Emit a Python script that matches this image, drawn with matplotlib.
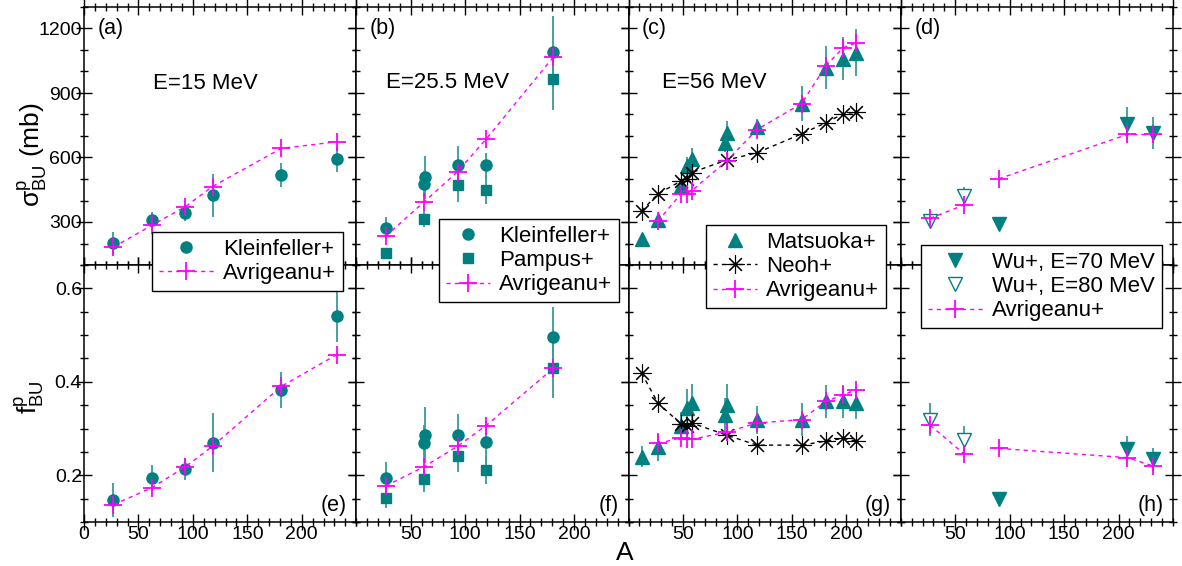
import numpy as np
import matplotlib
matplotlib.use('Agg')
import matplotlib.pyplot as plt
from matplotlib.ticker import MultipleLocator, NullFormatter

plt.rcParams['font.family'] = ['Liberation Sans', 'DejaVu Sans']
plt.rcParams['mathtext.default'] = 'regular'

# ------------------------------------------------------------
# Datos
# ------------------------------------------------------------
# E = 15 MeV
A15 = [27, 62, 93, 118, 181, 232]
sig15_kl = [202, 307, 343, 424, 518, 591]
sig15_kl_err = [50, 40, 40, 100, 55, 60]
sig15_av = [183, 284, 371, 465, 642, 673]
f15_kl = [0.147, 0.194, 0.213, 0.270, 0.383, 0.541]
f15_kl_err = [0.037, 0.027, 0.023, 0.064, 0.039, 0.055]
f15_av = [0.137, 0.173, 0.218, 0.262, 0.390, 0.458]

# E = 25.5 MeV
A25_kl = [27, 62, 63, 93, 119, 181]
sig25_kl = [273, 475, 509, 563, 563, 1092]
sig25_kl_err = [50, 60, 100, 90, 60, 165]
f25_kl = [0.195, 0.268, 0.286, 0.287, 0.272, 0.496]
f25_kl_err = [0.033, 0.04, 0.06, 0.045, 0.045, 0.065]
A25_pa = [27, 62, 93, 119, 181]
sig25_pa = [154, 315, 470, 447, 963]
sig25_pa_err = [15, 40, 75, 65, 140]
f25_pa = [0.151, 0.192, 0.241, 0.211, 0.429]
f25_pa_err = [0.02, 0.028, 0.035, 0.03, 0.063]
A25_av = [27, 62, 93, 119, 181]
sig25_av = [234, 392, 534, 684, 1067]
f25_av = [0.177, 0.218, 0.262, 0.306, 0.429]

# E = 56 MeV
A56_ma = [12, 27, 48, 54, 58, 89, 90, 118, 159, 181, 197, 209]
sig56_ma = [219, 309, 467, 560, 595, 669, 715, 743, 851, 1017, 1059, 1087]
sig56_ma_err = [15, 20, 30, 40, 50, 45, 55, 35, 80, 100, 100, 110]
f56_ma = [0.240, 0.260, 0.305, 0.345, 0.355, 0.330, 0.351, 0.319, 0.319, 0.358, 0.358, 0.355]
f56_ma_err = [0.023, 0.03, 0.03, 0.04, 0.04, 0.035, 0.045, 0.03, 0.035, 0.035, 0.035, 0.035]
A56_ne = [12, 27, 48, 54, 58, 90, 118, 159, 181, 197, 209]
sig56_ne = [351, 431, 490, 500, 530, 588, 622, 710, 761, 803, 811]
f56_ne = [0.4185, 0.355, 0.310, 0.305, 0.312, 0.286, 0.2645, 0.2645, 0.273, 0.279, 0.273]
A56_av = [27, 48, 54, 58, 90, 118, 159, 181, 197, 209]
sig56_av = [304, 430, 432, 445, 583, 730, 851, 1025, 1110, 1133]
f56_av = [0.268, 0.280, 0.278, 0.277, 0.292, 0.312, 0.319, 0.358, 0.372, 0.383]

# Wu, E = 70 / 80 MeV
A70 = [90, 208, 232]
sig70 = [293, 758, 715]
sig70_err = [15, 75, 75]
f70 = [0.149, 0.257, 0.234]
f70_err = [0.005, 0.027, 0.025]
A80 = [27, 58]
sig80 = [304, 420]
sig80_err = [10, 45]
f80 = [0.319, 0.2745]
f80_err = [0.036, 0.032]
A7080_av = [27, 58, 90, 208, 232]
sig7080_av = [317, 379, 501, 707, 707]
f7080_av = [0.307, 0.246, 0.2575, 0.2377, 0.2198]

TEAL = '#008080'
ERRC = '#3a9a9a'
MAG = '#ff00ff'

# ------------------------------------------------------------
# Estilos
# ------------------------------------------------------------
AV_KW = dict(color=MAG, marker='+', ms=13, mew=1.3, lw=1.0, ls=(0, (3, 3)), zorder=6)
NE_KW = dict(color='black', marker=(8, 2, 0), ms=13, mew=0.8, lw=1.0, ls=(0, (3, 3)), zorder=5)


def err(ax, x, y, e):
    ax.errorbar(x, y, yerr=e, fmt='none', ecolor=ERRC, elinewidth=1.3, capsize=0, zorder=3)


fig = plt.figure(figsize=(11.82, 5.66), dpi=100)
L, R = 84 / 1182, 1173 / 1182
W = (R - L) / 4
yb, ym, yt = 1 - 522 / 566, 1 - 265 / 566, 1 - 7 / 566
axes_top = [fig.add_axes([L + i * W, ym, W, yt - ym]) for i in range(4)]
axes_bot = [fig.add_axes([L + i * W, yb, W, ym - yb]) for i in range(4)]

for i, ax in enumerate(axes_top + axes_bot):
    ax.set_xlim(0, 250)
    ax.xaxis.set_major_locator(MultipleLocator(50))
    ax.xaxis.set_minor_locator(MultipleLocator(10))
    ax.tick_params(which='both', direction='inout', top=True, right=True, labelsize=14)
    ax.tick_params(which='major', length=11, width=1)
    ax.tick_params(which='minor', length=6, width=1)
    ax.tick_params(axis='y', which='major', pad=-4)
    ax.tick_params(axis='x', which='major', pad=-2.5)
    for s in ax.spines.values():
        s.set_linewidth(1.1)

for ax in axes_top:
    ax.set_ylim(100, 1300)
    ax.yaxis.set_major_locator(MultipleLocator(300))
    ax.yaxis.set_minor_locator(MultipleLocator(100))
for ax in axes_bot:
    ax.set_ylim(0.1, 0.65)
    ax.yaxis.set_major_locator(MultipleLocator(0.2))
    ax.yaxis.set_minor_locator(MultipleLocator(0.05))
for ax in axes_top[1:] + axes_bot[1:]:
    ax.yaxis.set_major_formatter(NullFormatter())
axes_bot[0].set_xticks([0, 50, 100, 150, 200])
axes_bot[0].set_xticklabels(['0', '50', '100', '150', '200'])
for ax in axes_bot[1:]:
    ax.set_xticks([50, 100, 150, 200])
    ax.set_xticklabels(['50', '100', '150', '200'])
for ax in axes_top:
    ax.set_xticks([0, 50, 100, 150, 200, 250])
    ax.xaxis.set_major_formatter(NullFormatter())
axes_top[0].set_yticks([300, 600, 900, 1200])
axes_bot[0].set_yticks([0.2, 0.4, 0.6])
axes_bot[0].set_yticklabels(['0.2', '0.4', '0.6'])

# ---------------- (a) / (e) ----------------
ax, bx = axes_top[0], axes_bot[0]
err(ax, A15, sig15_kl, sig15_kl_err)
h_kl, = ax.plot(A15, sig15_kl, 'o', color=TEAL, ms=8, zorder=4, label='Kleinfeller+')
h_av, = ax.plot(A15, sig15_av, label='Avrigeanu+', **AV_KW)
err(bx, A15, f15_kl, f15_kl_err)
bx.plot(A15, f15_kl, 'o', color=TEAL, ms=8, zorder=4)
bx.plot(A15, f15_av, **AV_KW)

# ---------------- (b) / (f) ----------------
ax, bx = axes_top[1], axes_bot[1]
err(ax, A25_kl, sig25_kl, sig25_kl_err)
err(ax, A25_pa, sig25_pa, sig25_pa_err)
h_kl2, = ax.plot(A25_kl, sig25_kl, 'o', color=TEAL, ms=8, zorder=4, label='Kleinfeller+')
h_pa, = ax.plot(A25_pa, sig25_pa, 's', color=TEAL, ms=7, zorder=4, label='Pampus+')
h_av2, = ax.plot(A25_av, sig25_av, label='Avrigeanu+', **AV_KW)
err(bx, A25_kl, f25_kl, f25_kl_err)
err(bx, A25_pa, f25_pa, f25_pa_err)
bx.plot(A25_kl, f25_kl, 'o', color=TEAL, ms=8, zorder=4)
bx.plot(A25_pa, f25_pa, 's', color=TEAL, ms=7, zorder=4)
bx.plot(A25_av, f25_av, **AV_KW)

# ---------------- (c) / (g) ----------------
ax, bx = axes_top[2], axes_bot[2]
err(ax, A56_ma, sig56_ma, sig56_ma_err)
h_ma, = ax.plot(A56_ma, sig56_ma, '^', color=TEAL, ms=10, zorder=4, label='Matsuoka+')
h_ne, = ax.plot(A56_ne, sig56_ne, label='Neoh+', **NE_KW)
h_av3, = ax.plot(A56_av, sig56_av, label='Avrigeanu+', **AV_KW)
err(bx, A56_ma, f56_ma, f56_ma_err)
bx.plot(A56_ma, f56_ma, '^', color=TEAL, ms=10, zorder=4)
bx.plot(A56_ne, f56_ne, **NE_KW)
bx.plot(A56_av, f56_av, **AV_KW)

# ---------------- (d) / (h) ----------------
ax, bx = axes_top[3], axes_bot[3]
err(ax, A70, sig70, sig70_err)
err(ax, A80, sig80, sig80_err)
h_w70, = ax.plot(A70, sig70, 'v', color=TEAL, ms=10, zorder=4, label='Wu+, E=70 MeV')
h_w80, = ax.plot(A80, sig80, 'v', mfc='white', mec=TEAL, mew=1.0, ms=10, zorder=4,
                 label='Wu+, E=80 MeV')
h_av4, = ax.plot(A7080_av[:2], sig7080_av[:2], label='Avrigeanu+', **AV_KW)
ax.plot(A7080_av[2:], sig7080_av[2:], **AV_KW)
err(bx, A70, f70, f70_err)
err(bx, A80, f80, f80_err)
bx.plot(A70, f70, 'v', color=TEAL, ms=10, zorder=4)
bx.plot(A80, f80, 'v', mfc='white', mec=TEAL, mew=1.0, ms=10, zorder=4)
bx.plot(A7080_av[:2], f7080_av[:2], **AV_KW)
bx.plot(A7080_av[2:], f7080_av[2:], **AV_KW)

# ---------------- textos ----------------
for ax, lab in zip(axes_top, ['(a)', '(b)', '(c)', '(d)']):
    ax.text(0.05, 0.915, lab, transform=ax.transAxes, fontsize=15.5, va='center', ha='left')
for ax, lab in zip(axes_bot, ['(e)', '(f)', '(g)', '(h)']):
    ax.text(0.965, 0.066, lab, transform=ax.transAxes, fontsize=15.5, va='center', ha='right')
axes_top[0].text(0.447, 0.705, 'E=15 MeV', transform=axes_top[0].transAxes,
                 fontsize=16, ha='center', va='center')
axes_top[1].text(0.335, 0.709, 'E=25.5 MeV', transform=axes_top[1].transAxes,
                 fontsize=16, ha='center', va='center')
axes_top[2].text(0.316, 0.709, 'E=56 MeV', transform=axes_top[2].transAxes,
                 fontsize=16, ha='center', va='center')

fig.text(0.027, 1 - 155 / 566, r'$\sigma^{p}_{BU}$ (mb)', rotation=90,
         fontsize=19, ha='center', va='center')
fig.text(0.025, 1 - 397 / 566, r'$f^{p}_{BU}$', rotation=90,
         fontsize=19, ha='center', va='center')
fig.text(625 / 1182, 1 - 553 / 566, 'A', fontsize=19, ha='center', va='center')

# ---------------- leyendas ----------------
LEG_KW = dict(loc='upper left', fontsize=16, frameon=True, fancybox=False,
              edgecolor='black', framealpha=1, numpoints=1,
              handletextpad=0.4, labelspacing=0.15, borderpad=0.3, borderaxespad=0)


def leg(handles, x, y, hl=2.5):
    lg = fig.legend(handles=handles, bbox_to_anchor=(x / 1182, 1 - y / 566),
                    handlelength=hl, **LEG_KW)
    lg.get_frame().set_linewidth(1.0)
    return lg


leg([h_kl, h_av], 152, 232)
leg([h_kl2, h_pa, h_av2], 439, 219, hl=2.0)
leg([h_ma, h_ne, h_av3], 706, 225, hl=2.0)
leg([h_w70, h_w80, h_av4], 921, 245)

fig.savefig('out.png', dpi=100)
